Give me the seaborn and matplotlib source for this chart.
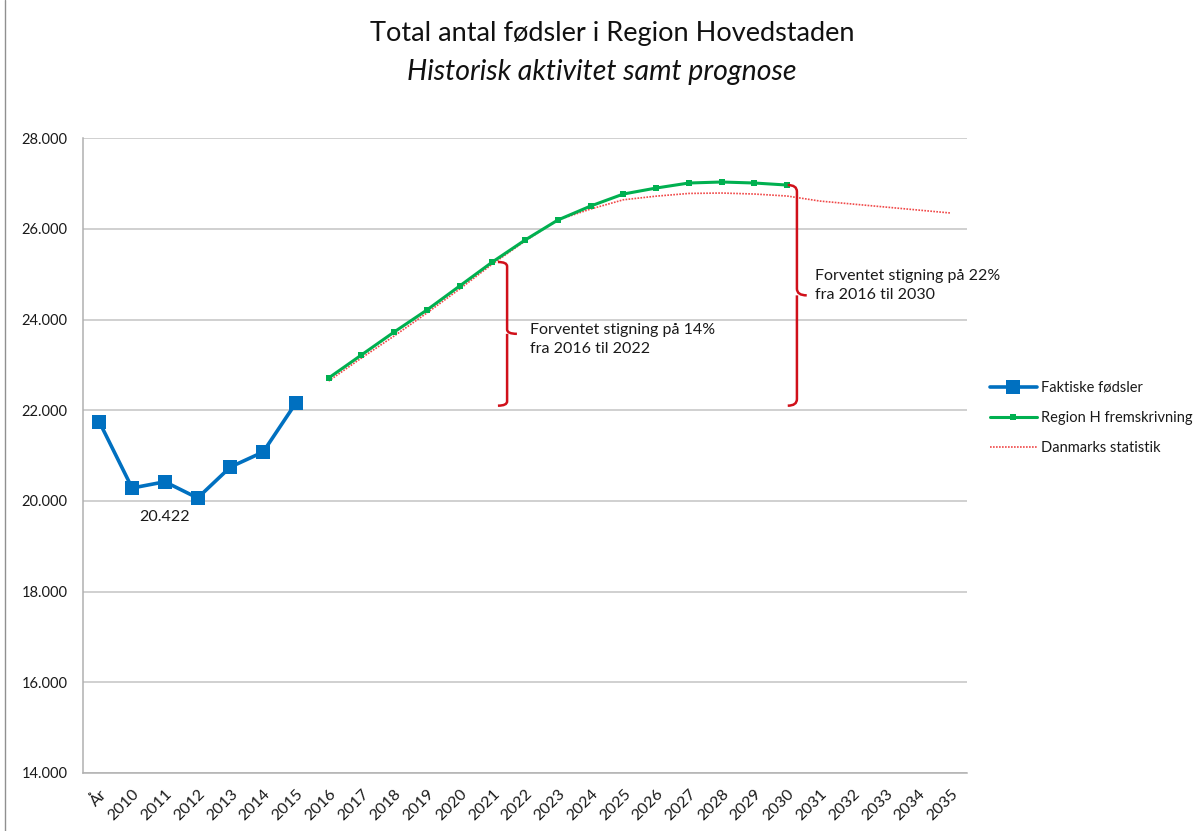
import numpy as np
import pandas as pd
import seaborn as sns
import matplotlib.pyplot as plt
from matplotlib.path import Path
from matplotlib.patches import PathPatch
from matplotlib.lines import Line2D
from matplotlib.ticker import FuncFormatter

# Data
categories = ['År'] + [str(y) for y in range(2010, 2036)]
actual = [21740, 20284, 20422, 20064, 20747, 21078, 22159]
region_h = [22710, 23217, 23724, 24209, 24738, 25268, 25753, 26194,
            26502, 26767, 26899, 27010, 27032, 27010, 26965]
dst = [22643, 23150, 23636, 24143, 24672, 25223, 25731, 26194, 26436,
       26640, 26720, 26780, 26789, 26767, 26723, 26612, 26546, 26480,
       26414, 26348]
brace_bottom = 22100

pos = np.arange(len(categories))
df_actual = pd.DataFrame({'x': pos[:len(actual)], 'y': actual})
df_region = pd.DataFrame({'x': pos[7:7 + len(region_h)], 'y': region_h})
df_dst = pd.DataFrame({'x': pos[7:7 + len(dst)], 'y': dst})

sns.set_style('white')
plt.rcParams['font.family'] = ['Lato', 'DejaVu Sans']

fig = plt.figure(figsize=(12.03, 8.31), dpi=100)
ax = fig.add_axes([0.069, 0.0698, 0.735, 0.764])

sns.lineplot(data=df_dst, x='x', y='y', ax=ax, color='#F04848', lw=1.2,
             linestyle=(0, (1, 0.8)), label='Danmarks statistik', zorder=3)
sns.lineplot(data=df_region, x='x', y='y', ax=ax, color='#00B050', lw=2.2,
             marker='s', markersize=4.5, markeredgewidth=0,
             label='Region H fremskrivning', zorder=4)
sns.lineplot(data=df_actual, x='x', y='y', ax=ax, color='#0070C0', lw=2.6,
             marker='s', markersize=10, markeredgewidth=0,
             label='Faktiske fødsler', zorder=5)

ax.set_xlim(-0.5, len(categories) - 0.5)
ax.set_ylim(14000, 28000)
ax.set_yticks(np.arange(14000, 28001, 2000))
ax.yaxis.set_major_formatter(FuncFormatter(lambda v, p: f'{v:,.0f}'.replace(',', '.')))
ax.grid(axis='y', color='#c4c4c4', lw=1.1)
ax.set_xlabel('')
ax.set_ylabel('')

ax.set_xticks(pos)
ax.set_xticklabels(categories, rotation=45, ha='right', rotation_mode='anchor')
ax.set_xticks(pos[:-1] + 0.5, minor=True)
ax.tick_params(axis='x', which='major', length=0, pad=10, labelsize=11.5)
ax.tick_params(axis='x', which='minor', length=5, color='#b0b0b0', width=1)
ax.tick_params(axis='y', length=5, color='#b0b0b0', width=1, labelsize=10.5, pad=6)
ax.tick_params(axis='both', labelcolor='#1a1a1a')
for s in ['top', 'right']:
    ax.spines[s].set_visible(False)
for s in ['left', 'bottom']:
    ax.spines[s].set_color('#b0b0b0')
    ax.spines[s].set_linewidth(1.1)

# label on 2011
ax.annotate(f'{actual[2]:,.0f}'.replace(',', '.'), (pos[2], actual[2]),
            xytext=(0, -20), textcoords='offset points', ha='center', va='top',
            fontsize=11.5, color='#1a1a1a')


def brace(x0, top, bottom, w=0.28, tip=0.3):
    mid = (top + bottom) / 2
    h = (top - bottom) * 0.03
    verts = [(x0 - w, top), (x0, top), (x0, top - h),
             (x0, mid + h), (x0, mid), (x0 + tip, mid),
             (x0, mid), (x0, mid - h),
             (x0, bottom + h), (x0, bottom), (x0 - w, bottom)]
    codes = [Path.MOVETO, Path.CURVE3, Path.CURVE3,
             Path.LINETO, Path.CURVE3, Path.CURVE3,
             Path.MOVETO, Path.LINETO,
             Path.LINETO, Path.CURVE3, Path.CURVE3]
    ax.add_patch(PathPatch(Path(verts, codes), fc='none', ec='#D0101A', lw=1.8, zorder=6))


brace(12.45, region_h[5], brace_bottom)
brace(21.3, region_h[-1], brace_bottom)
ax.text(13.15, 23920, 'Forventet stigning på 14%\nfra 2016 til 2022', fontsize=11.5,
        va='top', ha='left', linespacing=1.45, color='#1a1a1a')
ax.text(21.85, 25120, 'Forventet stigning på 22%\nfra 2016 til 2030', fontsize=11.5,
        va='top', ha='left', linespacing=1.45, color='#1a1a1a')

fig.text(0.509, 0.96, 'Total antal fødsler i Region Hovedstaden', ha='center',
         va='center', fontsize=19.5, color='#111111')
fig.text(0.5, 0.913, 'Historisk aktivitet samt prognose', ha='center',
         va='center', fontsize=20.5, style='italic', color='#111111')

handles = [Line2D([], [], color='#0070C0', lw=2.6, marker='s', markersize=10, markeredgewidth=0),
           Line2D([], [], color='#00B050', lw=2.2, marker='s', markersize=4.5, markeredgewidth=0),
           Line2D([], [], color='#F04848', lw=1.2, linestyle=(0, (1, 0.8)))]
ax.legend(handles, ['Faktiske fødsler', 'Region H fremskrivning', 'Danmarks statistik'],
          loc='center left', bbox_to_anchor=(0.812, 0.497), bbox_transform=fig.transFigure,
          frameon=False, fontsize=10.5, handlelength=3.2, handletextpad=0.3,
          labelspacing=1.1, labelcolor='#1a1a1a')

fig.add_artist(Line2D([0.004, 0.004], [0, 1], transform=fig.transFigure,
                      color='#909090', lw=1))

fig.savefig('out.png', dpi=100)
